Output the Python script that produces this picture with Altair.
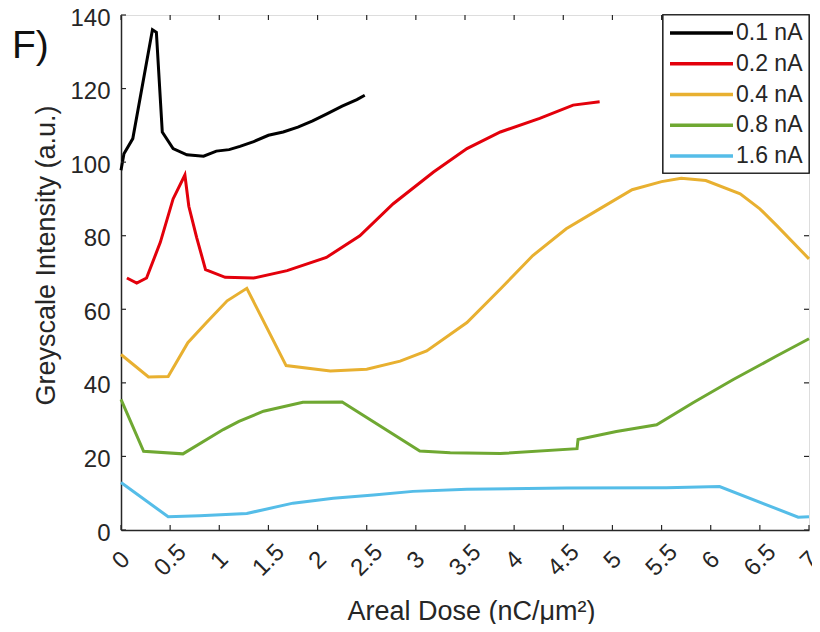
import altair as alt
import pandas as pd

series_names = ["0.1 nA", "0.2 nA", "0.4 nA", "0.8 nA", "1.6 nA"]
series_colors = ["#000000", "#e3000b", "#e8b030", "#6fa832", "#55bde8"]

x_01 = [0, 0.03, 0.12, 0.32, 0.36, 0.42, 0.53, 0.67, 0.84, 0.97, 1.1, 1.21, 1.35, 1.5, 1.65, 1.8, 1.95, 2.1, 2.25, 2.4, 2.48]
y_01 = [97.8, 102.3, 106.4, 136.0, 135.3, 108.2, 103.7, 102.0, 101.6, 103.0, 103.4, 104.3, 105.6, 107.3, 108.2, 109.5, 111.2, 113.2, 115.2, 117.0, 118.2]

x_02 = [0.06, 0.16, 0.26, 0.4, 0.53, 0.65, 0.69, 0.77, 0.86, 1.06, 1.35, 1.69, 2.09, 2.43, 2.77, 3.18, 3.52, 3.86, 4.26, 4.6, 4.87]
y_02 = [68.5, 67.1, 68.5, 78.2, 90.0, 96.5, 88.0, 79.5, 70.8, 68.7, 68.5, 70.5, 74.1, 80.0, 88.7, 97.3, 103.7, 108.2, 111.9, 115.5, 116.4]

x_04 = [0, 0.28, 0.48, 0.68, 0.87, 1.08, 1.28, 1.68, 2.13, 2.5, 2.84, 3.11, 3.52, 3.86, 4.19, 4.53, 4.87, 5.2, 5.5, 5.7, 5.95, 6.3, 6.5, 6.67, 7.0]
y_04 = [47.7, 41.6, 41.7, 50.9, 56.4, 62.3, 65.7, 44.7, 43.2, 43.7, 45.9, 48.7, 56.4, 65.5, 74.6, 81.9, 87.3, 92.5, 94.7, 95.6, 95.0, 91.4, 87.3, 82.8, 73.7]

x_08 = [0, 0.23, 0.63, 1.04, 1.2, 1.45, 1.85, 2.25, 3.04, 3.35, 3.86, 4.64, 4.65, 5.04, 5.45, 5.82, 6.23, 6.67, 7.0]
y_08 = [35.5, 21.4, 20.7, 27.3, 29.5, 32.3, 34.7, 34.8, 21.5, 21.0, 20.8, 22.1, 24.6, 26.8, 28.6, 34.6, 40.9, 47.3, 52.0]

x_16 = [0, 0.48, 0.8, 1.28, 1.75, 2.16, 2.57, 2.97, 3.52, 4.53, 5.55, 6.09, 6.89, 7.0]
y_16 = [12.9, 3.6, 3.9, 4.5, 7.3, 8.6, 9.5, 10.5, 11.1, 11.4, 11.5, 11.8, 3.5, 3.6]

x_ticks = [0, 0.5, 1, 1.5, 2, 2.5, 3, 3.5, 4, 4.5, 5, 5.5, 6, 6.5, 7]
y_ticks = [0, 20, 40, 60, 80, 100, 120, 140]

FONT = "Liberation Sans"
AX = "#262626"

rows = []
for name, xs, ys in zip(series_names, [x_01, x_02, x_04, x_08, x_16], [y_01, y_02, y_04, y_08, y_16]):
    for i, (a, b) in enumerate(zip(xs, ys)):
        rows.append({"series": name, "dose": a, "val": b, "order": i})
df = pd.DataFrame(rows)

color_scale = alt.Scale(domain=series_names, range=series_colors)
xscale = alt.Scale(domain=[0, 7], nice=False, zero=False)
yscale = alt.Scale(domain=[0, 140], nice=False)

lines = alt.Chart(df).mark_line(strokeWidth=3).encode(
    x=alt.X("dose:Q", scale=xscale,
            axis=alt.Axis(values=x_ticks, format=".1~f", labelAngle=-45, labelAlign="center",
                          labelBaseline="middle", labelPadding=30, ticks=False, tickSize=0, grid=False,
                          domainColor=AX, domainWidth=1.5, labelColor=AX, labelFontSize=24, labelFont=FONT,
                          labelOverlap=False, labelFlush=False,
                          title="Areal Dose (nC/μm²)", titleFont=FONT, titleFontSize=27,
                          titleFontWeight="normal", titleColor=AX, titleX=350, titleY=89,
                          titleBaseline="alphabetic", titleAlign="center")),
    y=alt.Y("val:Q", scale=yscale,
            axis=alt.Axis(values=y_ticks, ticks=False, tickSize=0, grid=False, labelPadding=11,
                          labelOffset=3,
                          domainColor=AX, domainWidth=1.5, labelColor=AX, labelFontSize=24, labelFont=FONT,
                          title="Greyscale Intensity (a.u.)", titleFont=FONT, titleFontSize=27,
                          titleFontWeight="normal", titleColor=AX, titleX=-75, titleY=240,
                          titleAlign="center", titleBaseline="middle", titleAngle=-90)),
    color=alt.Color("series:N", scale=color_scale, legend=None),
    detail="series:N",
    order="order:Q",
)

xt = pd.DataFrame({"t": x_ticks})
yt = pd.DataFrame({"t": y_ticks})
tick_bottom = alt.Chart(xt).mark_rule(color=AX, strokeWidth=1.2).encode(
    x=alt.X("t:Q", scale=xscale), y=alt.value(510), y2=alt.value(515))
tick_top = alt.Chart(xt).mark_rule(color=AX, strokeWidth=1.2).encode(
    x=alt.X("t:Q", scale=xscale), y=alt.value(0), y2=alt.value(5))
tick_left = alt.Chart(yt).mark_rule(color=AX, strokeWidth=1.2).encode(
    y=alt.Y("t:Q", scale=yscale, axis=None), x=alt.value(0), x2=alt.value(5))
tick_right = alt.Chart(yt).mark_rule(color=AX, strokeWidth=1.2).encode(
    y=alt.Y("t:Q", scale=yscale, axis=None), x=alt.value(683), x2=alt.value(688))

leg_df = pd.DataFrame({"series": series_names})
leg_y = alt.Y("series:N", scale=alt.Scale(type="point", domain=series_names, range=[18, 141], padding=0), axis=None)
leg_box = alt.Chart(leg_df).mark_rect(fill="white", stroke=AX, strokeWidth=1.2).encode(
    x=alt.value(542), x2=alt.value(688), y=alt.value(0), y2=alt.value(158))
leg_lines = alt.Chart(leg_df).mark_rule(strokeWidth=3.5).encode(
    x=alt.value(549), x2=alt.value(612), y=leg_y,
    color=alt.Color("series:N", scale=color_scale, legend=None))
leg_text = alt.Chart(leg_df).mark_text(align="left", baseline="middle", font=FONT, fontSize=23, color=AX).encode(
    x=alt.value(615), y=leg_y, text="series:N")

label_f = alt.Chart(leg_df.head(1)).mark_text(align="left", baseline="alphabetic", font=FONT, fontSize=39,
                                              color="#111111").encode(
    x=alt.value(-109), y=alt.value(43), text=alt.value("F)"))

chart = alt.layer(
    lines, tick_bottom, tick_top, tick_left, tick_right, leg_box, leg_lines, leg_text, label_f
).resolve_scale(y="independent").properties(
    width=688, height=515,
    padding={"left": 113, "top": 7, "right": 3, "bottom": 94},
    autosize=alt.AutoSizeParams(type="none"),
).configure_view(stroke=AX, strokeWidth=1.5).configure(background="white")

chart.save("out.html", embed_options={"renderer": "svg", "actions": False})
